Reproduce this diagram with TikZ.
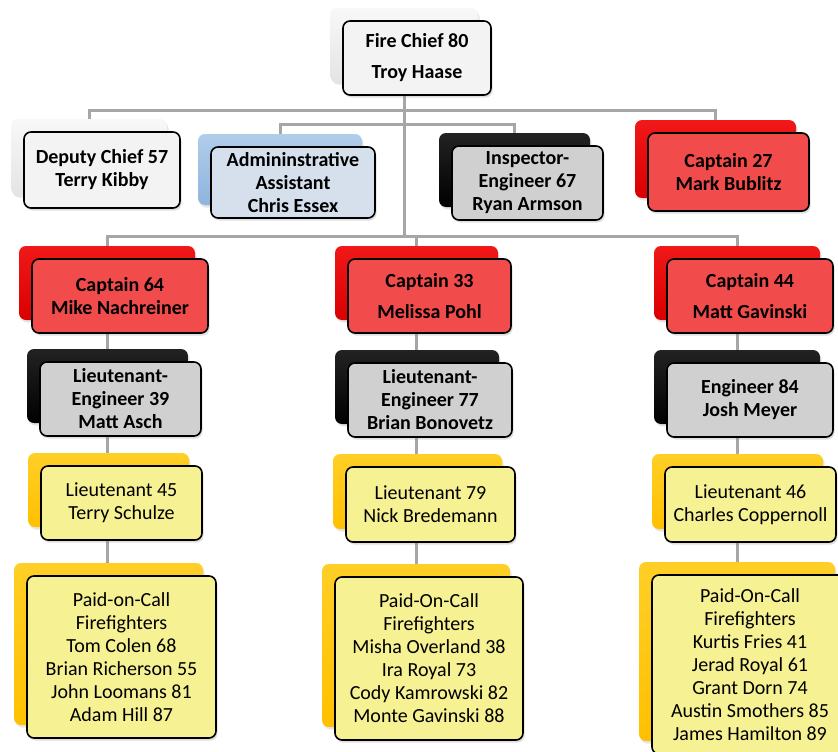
\documentclass[tikz,border=0pt]{standalone}
\usepackage{fontspec}
\setmainfont{Carlito}
\usetikzlibrary{shadows}
\pgfdeclarelayer{paper}
\pgfdeclarelayer{bg}
\pgfsetlayers{paper,bg,main}
\definecolor{linegray}{HTML}{A6A6A6}
\definecolor{redF}{HTML}{F24B4B}
\definecolor{redT}{HTML}{F01818}
\definecolor{redB}{HTML}{D80000}
\definecolor{grayF}{HTML}{D0D0D0}
\definecolor{blackT}{HTML}{222222}
\definecolor{blackB}{HTML}{000000}
\definecolor{yelF}{HTML}{F6F193}
\definecolor{goldT}{HTML}{FFCF26}
\definecolor{goldB}{HTML}{FFC000}
\definecolor{blueF}{HTML}{D6DFEC}
\definecolor{blueT}{HTML}{B0CDEA}
\definecolor{blueB}{HTML}{8FB4DE}
\definecolor{whiteF}{HTML}{F3F3F3}
\definecolor{whiteT}{HTML}{F8F8F8}
\definecolor{whiteB}{HTML}{E4E4E4}
\tikzset{
  basebox/.style={rectangle, rounded corners=7pt, inner sep=0pt, align=center,
    font=\fontsize{20}{23}\selectfont},
  frontbox/.style={basebox, draw=black, line width=1.6pt,
    drop shadow={opacity=0.25, shadow xshift=1.5pt, shadow yshift=-2.5pt}},
  boldfront/.style={frontbox, font=\fontsize{20}{23}\selectfont\bfseries},
  backbox/.style={basebox, drop shadow={opacity=0.2, shadow xshift=1.5pt, shadow yshift=-2.5pt}},
  whiteback/.style={backbox, top color=whiteT, bottom color=whiteB},
  blueback/.style={backbox, top color=blueT, bottom color=blueB},
  blackback/.style={backbox, top color=blackT, bottom color=blackB},
  redback/.style={backbox, top color=redT, bottom color=redB},
  goldback/.style={backbox, top color=goldT, bottom color=goldB},
  whitefront/.style={boldfront, fill=whiteF},
  bluefront/.style={boldfront, fill=blueF},
  grayfront/.style={boldfront, fill=grayF},
  redfront/.style={boldfront, fill=redF},
  yelfront/.style={frontbox, fill=yelF},
  conn/.style={draw=linegray, line width=3pt}
}
% #1 name, #2 cx, #3 cy, #4 w, #5 h, #6 back style, #7 front style, #8 text
\newcommand{\orgbox}[8]{%
  \node[#6, minimum width=#4, minimum height=#5] (#1b) at (#2-13,#3-13) {};
  \node[#7, minimum width=#4, minimum height=#5] (#1) at (#2,#3) {#8};
}
\begin{document}
\begin{tikzpicture}[x=1pt,y=-1pt]
\begin{pgfonlayer}{paper}
\fill[white] (0,0) rectangle (838,752);
\end{pgfonlayer}
\useasboundingbox (0,0) rectangle (838,752);

\orgbox{chief}{417}{58}{148}{74}{whiteback}{whitefront}{Fire Chief 80\\[8pt]Troy Haase}
\orgbox{deputy}{102}{170}{156}{76}{whiteback}{whitefront}{Deputy Chief 57\\Terry Kibby}
\orgbox{admin}{293}{182.5}{164}{71}{blueback}{bluefront}{Admininstrative\\Assistant\\Chris Essex}
\orgbox{insp}{527.5}{183}{151}{74}{blackback}{grayfront}{Inspector-\\Engineer 67\\Ryan Armson}
\orgbox{captb}{728.5}{172}{161}{78}{redback}{redfront}{Captain 27\\Mark Bublitz}

\orgbox{capa}{120}{296}{176}{74}{redback}{redfront}{Captain 64\\Mike Nachreiner}
\orgbox{capc}{429.5}{296}{163}{74}{redback}{redfront}{Captain 33\\[8pt]Melissa Pohl}
\orgbox{capd}{750}{296}{166}{74}{redback}{redfront}{Captain 44\\[8pt]Matt Gavinski}

\orgbox{lea}{120.5}{399}{161}{74}{blackback}{grayfront}{Lieutenant-\\Engineer 39\\Matt Asch}
\orgbox{leb}{430}{400}{164}{74}{blackback}{grayfront}{Lieutenant-\\Engineer 77\\Brian Bonovetz}
\orgbox{lec}{750}{400}{166}{74}{blackback}{grayfront}{Engineer 84\\Josh Meyer}

\orgbox{lta}{121.5}{503}{161}{74}{goldback}{yelfront}{Lieutenant 45\\Terry Schulze}
\orgbox{ltb}{430.5}{504.5}{169}{75}{goldback}{yelfront}{Lieutenant 79\\Nick Bredemann}
\orgbox{ltc}{750.5}{504.5}{171}{75}{goldback}{yelfront}{Lieutenant 46\\Charles Coppernoll}

\orgbox{ffa}{121.5}{657}{189}{162}{goldback}{yelfront}{Paid-on-Call\\Firefighters\\Tom Colen 68\\Brian Richerson 55\\John Loomans 81\\Adam Hill 87}
\orgbox{ffb}{429}{658.5}{188}{163}{goldback}{yelfront}{Paid-On-Call\\Firefighters\\Misha Overland 38\\Ira Royal 73\\Cody Kamrowski 82\\Monte Gavinski 88}
\orgbox{ffc}{750}{664.5}{196}{179}{goldback}{yelfront}{Paid-On-Call\\Firefighters\\Kurtis Fries 41\\Jerad Royal 61\\Grant Dorn 74\\Austin Smothers 85\\James Hamilton 89}

\coordinate (ht) at (0,110);
\coordinate (hm) at (0,124);
\coordinate (hb) at (0,236);

\begin{pgfonlayer}{bg}
\draw[conn] (chiefb.center) -- (chiefb.center |- hb);
\draw[conn] (deputyb.center) |- (captbb.center |- ht) -- (captbb.center);
\draw[conn] (adminb.center) |- (inspb.center |- hm) -- (inspb.center);
\draw[conn] (capab.center) |- (capdb.center |- hb) -- (capdb.center);
\draw[conn] (capcb.center |- hb) -- (capcb.center);
\draw[conn] (capab.center) -- (capab.center |- ffab.center);
\draw[conn] (capcb.center) -- (capcb.center |- ffbb.center);
\draw[conn] (capdb.center) -- (capdb.center |- ffcb.center);
\end{pgfonlayer}
\end{tikzpicture}
\end{document}
